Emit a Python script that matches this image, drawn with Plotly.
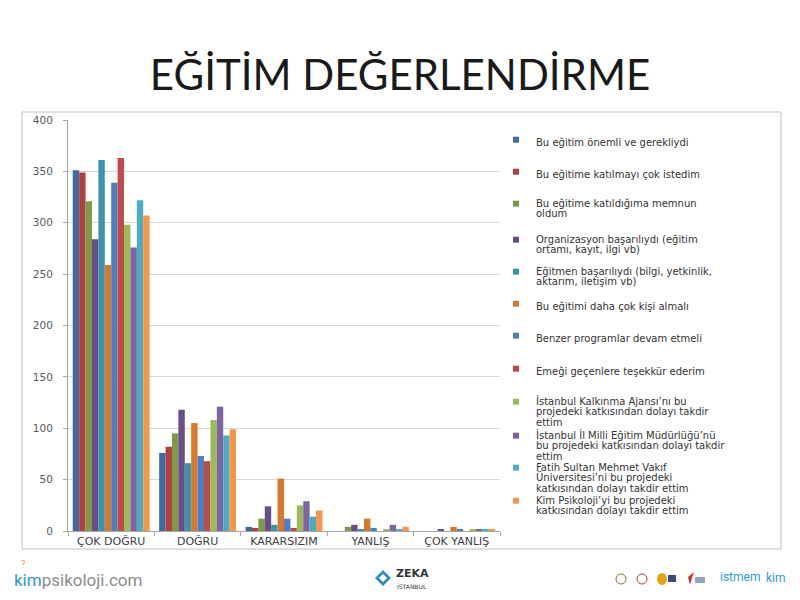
import plotly.graph_objects as go

# ---------------- data ----------------
categories = ["ÇOK DOĞRU", "DOĞRU", "KARARSIZIM", "YANLIŞ", "ÇOK YANLIŞ"]

series_names = [
    "Bu eğitim önemli ve gerekliydi",
    "Bu eğitime katılmayı çok istedim",
    "Bu eğitime katıldığıma memnun<br>oldum",
    "Organizasyon başarılıydı (eğitim<br>ortamı, kayıt, ilgi vb)",
    "Eğitmen başarılıydı (bilgi, yetkinlik,<br>aktarım, iletişim vb)",
    "Bu eğitimi daha çok kişi almalı",
    "Benzer programlar devam etmeli",
    "Emeği geçenlere teşekkür ederim",
    "İstanbul Kalkınma Ajansı’nı bu<br>projedeki katkısından dolayı takdir<br>ettim",
    "İstanbul İl Milli Eğitim Müdürlüğü’nü<br>bu projedeki katkısından dolayı takdir<br>ettim",
    "Fatih Sultan Mehmet Vakıf<br>Üniversitesi’ni bu projedeki<br>katkısından dolayı takdir ettim",
    "Kim Psikoloji’yi bu projedeki<br>katkısından dolayı takdir ettim",
]

s01 = [351, 76, 4, 0, 0]
s02 = [349, 82, 3, 0, 0]
s03 = [321, 95, 12, 4, 0]
s04 = [284, 118, 24, 6, 1]
s05 = [361, 66, 6, 1, 0]
s06 = [259, 105, 51, 12, 4]
s07 = [339, 73, 12, 3, 2]
s08 = [363, 68, 3, 0, 0]
s09 = [298, 108, 25, 2, 1]
s10 = [276, 121, 29, 6, 2]
s11 = [322, 93, 14, 2, 2]
s12 = [307, 99, 20, 4, 2]
series_values = [s01, s02, s03, s04, s05, s06, s07, s08, s09, s10, s11, s12]

colors = ["#3D6AA3", "#B43F3C", "#7E9A46", "#6A4E8A", "#3B94AE", "#D9772C",
          "#4B7FC0", "#C14A48", "#9BBB59", "#8064A2", "#4BACC6", "#F79646"]

y_ticks = [0, 50, 100, 150, 200, 250, 300, 350, 400]

# legend first-line y positions (pixels from top)
legend_rows = [142, 174, 206, 242, 274, 306, 338, 371, 404, 438, 470, 503]

# ---------------- layout helpers ----------------
W, H = 800, 600
PL, PR, PT, PB = 68, 500, 120, 531  # plot area in pixels


def px(x):
    return (x - PL) / (PR - PL)


def py(y):
    return (PB - y) / (PB - PT)


fig = go.Figure()

FONT = "DejaVu Sans"
LEG_TXT = 10

for i, (name, vals, col) in enumerate(zip(series_names, series_values, colors)):
    lg = "legend" if i == 0 else f"legend{i + 1}"
    fig.add_trace(go.Bar(
        x=categories, y=vals, name=name.replace("<br>", " "),
        marker=dict(color=col, line=dict(width=0)),
        showlegend=False, legendgroup=f"g{i}",
    ))
    styled = "<br>".join(
        f"<span style='font-size:{LEG_TXT}px'>{part}</span>" for part in name.split("<br>")
    )
    fig.add_trace(go.Scatter(
        x=[None], y=[None], mode="markers", name=styled,
        marker=dict(symbol="square", size=6, color=col),
        showlegend=True, legendgroup=f"g{i}", legend=lg,
        hoverinfo="skip",
    ))

layout_legends = {}
for i, row in enumerate(legend_rows):
    key = "legend" if i == 0 else f"legend{i + 1}"
    layout_legends[key] = dict(
        xref="container", yref="container",
        x=496 / W, y=1 - (row - 14) / H,
        xanchor="left", yanchor="top",
        valign="top",
        bgcolor="rgba(0,0,0,0)",
        font=dict(family=FONT, size=8, color="#333333"),
        itemwidth=30,
    )

fig.update_layout(
    width=W, height=H,
    margin=dict(l=PL, r=W - PR, t=PT, b=H - PB, autoexpand=False),
    paper_bgcolor="white", plot_bgcolor="white",
    barmode="group", bargap=0.11, bargroupgap=0,
    title=dict(
        text="EĞİTİM DEĞERLENDİRME",
        font=dict(family="Lato", size=42, color="#1a1a1a"),
        x=0.5, xref="container", xanchor="center",
        y=1 - 75 / H, yref="container", yanchor="middle",
    ),
    xaxis=dict(
        type="category",
        showline=True, linecolor="#A6A6A6", linewidth=1,
        ticks="outside", tickson="boundaries", ticklen=4, tickcolor="#A6A6A6",
        tickangle=0, automargin=False,
        tickfont=dict(family=FONT, size=11, color="#404040"),
        showgrid=False, zeroline=False,
    ),
    yaxis=dict(
        range=[0, 400], tickvals=y_ticks,
        showline=True, linecolor="#A6A6A6", linewidth=1,
        ticks="outside", ticklen=4, tickcolor="#A6A6A6",
        ticklabelstandoff=8, automargin=False,
        tickfont=dict(family=FONT, size=10.5, color="#595959"),
        showgrid=True, gridcolor="#D9D9D9", gridwidth=1,
        zeroline=False,
    ),
    hovermode="closest",
    **layout_legends,
)

shapes = []
# chart frame
shapes.append(dict(type="rect", xref="paper", yref="paper",
                   x0=px(22), x1=px(781), y0=py(549), y1=py(112),
                   line=dict(color="#BFBFBF", width=1), layer="below"))
# ZEKA logo diamond
shapes.append(dict(type="path", xref="paper", yref="paper",
                   path=f"M {px(375)} {py(578)} L {px(383)} {py(570)} L {px(391)} {py(578)} L {px(383)} {py(586)} Z",
                   fillcolor="#2E8FC0", line=dict(width=0)))
shapes.append(dict(type="path", xref="paper", yref="paper",
                   path=f"M {px(379)} {py(578)} L {px(383)} {py(574)} L {px(387)} {py(578)} L {px(383)} {py(582)} Z",
                   fillcolor="white", line=dict(width=0)))
# small partner logos (right footer)
for cx, col in [(621, "#8a6d3b"), (642, "#b33a3a")]:
    shapes.append(dict(type="circle", xref="paper", yref="paper",
                       x0=px(cx - 5), x1=px(cx + 5), y0=py(584), y1=py(574),
                       line=dict(color=col, width=1), fillcolor="white"))
shapes.append(dict(type="circle", xref="paper", yref="paper",
                   x0=px(657), x1=px(667), y0=py(585), y1=py(573),
                   line=dict(width=0), fillcolor="#E8A317"))
shapes.append(dict(type="rect", xref="paper", yref="paper",
                   x0=px(668), x1=px(676), y0=py(582), y1=py(575),
                   line=dict(width=0), fillcolor="#3A4A8C"))
shapes.append(dict(type="path", xref="paper", yref="paper",
                   path=f"M {px(690)} {py(585)} L {px(688)} {py(577)} L {px(694)} {py(572)} L {px(692)} {py(578)} Z",
                   fillcolor="#D32F2F", line=dict(width=0)))
shapes.append(dict(type="rect", xref="paper", yref="paper",
                   x0=px(695), x1=px(705), y0=py(583), y1=py(577),
                   line=dict(width=0), fillcolor="#8fa6c9"))
fig.update_layout(shapes=shapes)

annotations = [
    dict(text="<span style='color:#2A9BD0'>kim</span><span style='color:#8C8C8C'>psikoloji.com</span>",
         xref="paper", yref="paper", x=px(12), y=py(580), xanchor="left", yanchor="middle",
         showarrow=False, font=dict(family="Roboto", size=17)),
    dict(text="?", xref="paper", yref="paper", x=px(23), y=py(564), xanchor="center", yanchor="middle",
         showarrow=False, font=dict(family="Roboto", size=9, color="#F29A2E")),
    dict(text="<b>ZEKA</b>", xref="paper", yref="paper", x=px(394), y=py(573),
         xanchor="left", yanchor="middle", showarrow=False,
         font=dict(family=FONT, size=11, color="#333333")),
    dict(text="İSTANBUL", xref="paper", yref="paper", x=px(395), y=py(586),
         xanchor="left", yanchor="middle", showarrow=False,
         font=dict(family=FONT, size=6, color="#333333")),
    dict(text="istmem", xref="paper", yref="paper", x=px(718), y=py(577),
         xanchor="left", yanchor="middle", showarrow=False,
         font=dict(family="Roboto", size=12, color="#2A9BD0")),
    dict(text="kim", xref="paper", yref="paper", x=px(764), y=py(578),
         xanchor="left", yanchor="middle", showarrow=False,
         font=dict(family="Roboto", size=12, color="#2A9BD0")),
]
fig.update_layout(annotations=annotations)

fig.write_html("out.html")
